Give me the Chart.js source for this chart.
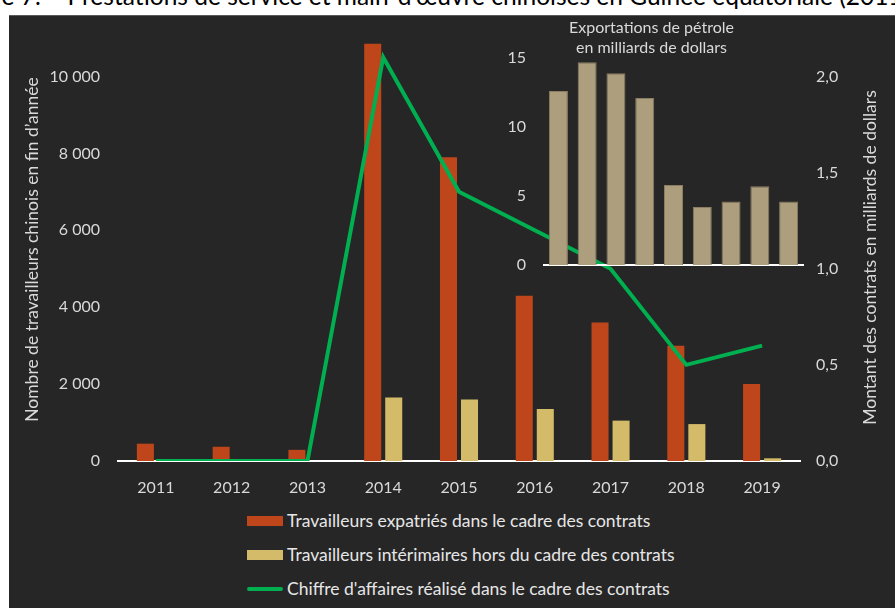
<!DOCTYPE html>
<html lang="fr">
<head>
<meta charset="utf-8">
<script src="https://cdn.jsdelivr.net/npm/chart.js@4.4.1/dist/chart.umd.min.js"></script>
<style>
body { margin: 0; width: 895px; height: 608px; overflow: hidden; position: relative; background: #fff; font-family: Lato, sans-serif; }
#title { position: absolute; left: -53px; top: -16px; font-size: 24.5px; line-height: 24px; color: #000; white-space: nowrap; }
#panel { position: absolute; left: 9px; top: 15px; width: 886px; height: 593px; background: #262626; box-shadow: inset 0 1px 0 #5a5a5a; }
#mainChart { position: absolute; left: 0; top: 0; }
#insetChart { position: absolute; left: 491px; top: 0; }
#legend { position: absolute; left: 238px; top: 495px; }
.row { position: relative; height: 34px; color: #e6e6e6; font-size: 17.5px; line-height: 22px; }
.row span { position: absolute; left: 40px; top: 0; white-space: nowrap; }
.box { position: absolute; left: 0; top: 6px; width: 36px; height: 10px; }
.lineSym { position: absolute; left: 0; top: 9px; width: 36px; height: 4px; border-radius: 2px; }
</style>
</head>
<body>
<div id="title">Figure 7. – Prestations de service et main-d'œuvre chinoises en Guinée équatoriale (2011-2019)</div>
<div id="panel">
  <canvas id="mainChart" width="886" height="480"></canvas>
  <canvas id="insetChart" width="314" height="260"></canvas>
  <div id="legend"></div>
</div>
<script>
// donnees
const years = ['2011', '2012', '2013', '2014', '2015', '2016', '2017', '2018', '2019'];
const expatries = [450, 370, 290, 10850, 7900, 4300, 3600, 3000, 2000];
const interimaires = [0, 0, 0, 1650, 1600, 1350, 1050, 960, 70];
const chiffreAffaires = [0, 0, 0, 2.1, 1.4, 1.2, 1.0, 0.5, 0.6];
const exportsPetrole = [12.6, 14.7, 13.9, 12.1, 5.8, 4.2, 4.6, 5.7, 4.6];

const leftTicks = [0, 2000, 4000, 6000, 8000, 10000];

const seriesLabels = [
    'Travailleurs expatriés dans le cadre des contrats',
    'Travailleurs intérimaires hors du cadre des contrats',
    "Chiffre d'affaires réalisé dans le cadre des contrats"
];
const leftAxisTitle = 'Nombre de travailleurs chinois en fin d’année';
const rightAxisTitle = 'Montant des contrats en milliards de dollars';
const insetTitle = ['Exportations de pétrole', 'en milliards de dollars'];

const textColor = '#d9d9d9';
const orange = '#BF461B';
const yellow = '#D4BB6A';
const green = '#00B050';
const tan = '#AD9E7E';

Chart.defaults.font.family = 'Lato, sans-serif';
Chart.defaults.font.size = 16;
Chart.defaults.color = textColor;

function formatThousands(value) {
    return String(value).replace(/\B(?=(\d{3})+(?!\d))/g, ' ');
}

// le titre de droite se lit de bas en haut, chart.js le tourne dans l'autre sens
const rightTitlePlugin = {
    id: 'rightTitle',
    afterDraw(chart) {
        const ctx = chart.ctx;
        const area = chart.chartArea;
        ctx.save();
        ctx.translate(861, (area.top + area.bottom) / 2 + 8);
        ctx.rotate(-Math.PI / 2);
        ctx.font = '17.5px Lato, sans-serif';
        ctx.fillStyle = textColor;
        ctx.textAlign = 'center';
        ctx.textBaseline = 'middle';
        ctx.fillText(rightAxisTitle, 0, 0);
        ctx.restore();
    }
};

const mainChart = new Chart(document.getElementById('mainChart'), {
    type: 'bar',
    data: {
        labels: years,
        datasets: [
            {
                type: 'line',
                label: seriesLabels[2],
                data: chiffreAffaires,
                yAxisID: 'y1',
                borderColor: green,
                backgroundColor: green,
                borderWidth: 4,
                pointRadius: 0,
                tension: 0,
                order: 0
            },
            {
                label: seriesLabels[0],
                data: expatries,
                yAxisID: 'y',
                backgroundColor: orange,
                categoryPercentage: 0.555,
                barPercentage: 0.81,
                order: 1
            },
            {
                label: seriesLabels[1],
                data: interimaires,
                yAxisID: 'y',
                backgroundColor: yellow,
                categoryPercentage: 0.555,
                barPercentage: 0.81,
                order: 1
            }
        ]
    },
    options: {
        responsive: false,
        animation: false,
        layout: { padding: { top: 23, left: 0, right: 0, bottom: 0 } },
        plugins: {
            legend: { display: false },
            tooltip: { enabled: false }
        },
        scales: {
            x: {
                grid: { display: false, drawTicks: false },
                border: { display: true, color: '#ffffff', width: 2 },
                ticks: { padding: 17, maxRotation: 0, color: textColor },
                afterFit: function(scale) {
                    scale.height = 34;
                    scale.paddingLeft = 0;
                    scale.paddingRight = 0;
                }
            },
            y: {
                position: 'left',
                min: 0,
                max: 11000,
                grid: { display: false, drawTicks: false },
                border: { display: false },
                ticks: {
                    padding: 18,
                    callback: function(value) { return formatThousands(value); }
                },
                // 11000 n'est pas un multiple de 2000, on pose les graduations a la main
                afterBuildTicks: function(scale) {
                    scale.ticks = leftTicks.map(function(v) { return { value: v }; });
                },
                title: {
                    display: true,
                    text: leftAxisTitle,
                    color: textColor,
                    font: { size: 17.5 },
                    padding: { top: 13, bottom: 0 }
                },
                afterFit: function(scale) {
                    scale.width = 109;
                    scale.paddingTop = 0;
                    scale.paddingBottom = 0;
                }
            },
            y1: {
                position: 'right',
                min: 0,
                max: 2.2,
                grid: { display: false, drawTicks: false },
                border: { display: false },
                ticks: {
                    stepSize: 0.5,
                    includeBounds: false,
                    padding: 16,
                    callback: function(value) { return value.toFixed(1).replace('.', ','); }
                },
                afterFit: function(scale) {
                    scale.width = 95;
                    scale.paddingTop = 0;
                    scale.paddingBottom = 0;
                }
            }
        }
    },
    plugins: [rightTitlePlugin]
});

// petit graphique des exportations de petrole, par dessus le grand
new Chart(document.getElementById('insetChart'), {
    type: 'bar',
    data: {
        labels: years,
        datasets: [{
            label: insetTitle.join(' '),
            data: exportsPetrole,
            backgroundColor: tan,
            borderColor: '#8a7d60',
            borderWidth: 1,
            categoryPercentage: 1,
            barPercentage: 0.66
        }]
    },
    options: {
        responsive: false,
        animation: false,
        layout: { padding: { top: 0, left: 0, right: 11, bottom: 0 } },
        plugins: {
            legend: { display: false },
            tooltip: { enabled: false },
            title: {
                display: true,
                text: insetTitle,
                color: textColor,
                font: { size: 16, weight: 'normal', lineHeight: 1.25 },
                padding: { top: 3, bottom: 0 }
            }
        },
        scales: {
            x: {
                grid: { display: false, drawTicks: false },
                border: { display: true, color: '#ffffff', width: 2 },
                ticks: { display: false },
                afterFit: function(scale) {
                    scale.height = 10;
                    scale.paddingLeft = 0;
                    scale.paddingRight = 0;
                }
            },
            y: {
                min: 0,
                max: 15,
                grid: { display: false, drawTicks: false },
                border: { display: false },
                ticks: { stepSize: 5, padding: 18 },
                afterFit: function(scale) {
                    scale.width = 44;
                    scale.paddingTop = 0;
                    scale.paddingBottom = 0;
                }
            }
        }
    }
});

// legende en colonne sous le graphique
function buildLegend(chart) {
    const legend = document.getElementById('legend');
    const order = [1, 2, 0];
    order.forEach(function(i) {
        const ds = chart.data.datasets[i];
        const row = document.createElement('div');
        row.className = 'row';
        const sym = document.createElement('div');
        sym.className = ds.type === 'line' ? 'lineSym' : 'box';
        sym.style.background = ds.type === 'line' ? ds.borderColor : ds.backgroundColor;
        const txt = document.createElement('span');
        txt.textContent = ds.label;
        row.appendChild(sym);
        row.appendChild(txt);
        legend.appendChild(row);
    });
}

buildLegend(mainChart);
</script>
</body>
</html>
